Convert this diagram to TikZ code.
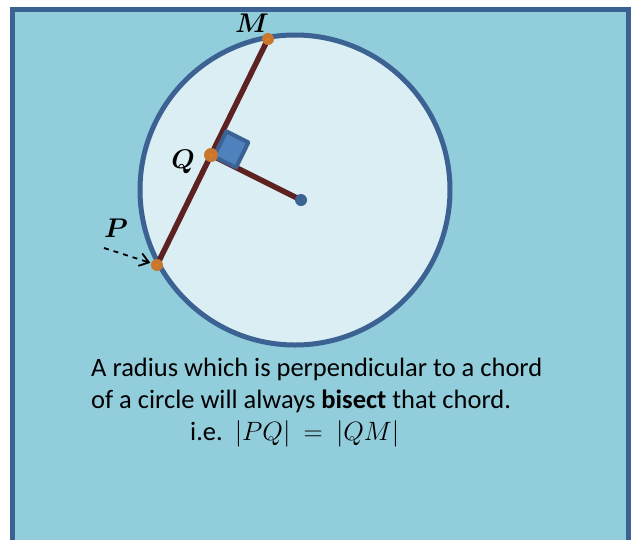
\RequirePackage{fix-cm}
\documentclass[tikz,border=0pt]{standalone}
\usepackage{amsmath, amssymb}
\usepackage{fontspec}
\setsansfont{Carlito}
\usepackage{tikz}
\usetikzlibrary{calc, positioning, arrows.meta}

\definecolor{boxblue}{HTML}{92CDDC}
\definecolor{discblue}{HTML}{DAEEF3}
\definecolor{rimblue}{HTML}{3B6292}
\definecolor{chordred}{HTML}{5E2121}
\definecolor{dotorange}{HTML}{C7772F}
\definecolor{markblue}{HTML}{4F81BD}

\begin{document}
\begin{tikzpicture}[x=1pt, y=-1pt, >={Straight Barb[length=9pt, width=13pt]},
    endpt/.style={circle, fill=dotorange, inner sep=0pt, minimum size=12pt},
    ptlabel/.style={font=\fontsize{27}{27}\selectfont, inner sep=0pt},
    seg/.style={chordred, line width=5.5pt},
    txtline/.style={font=\sffamily\fontsize{26.5}{32}\selectfont, anchor=base west, inner sep=0pt}]
    \useasboundingbox (0,0) rectangle (637,539);

    % Khung nen
    \draw[rimblue, line width=5pt, fill=boxblue] (12.5,9.5) rectangle (628.5,600);

    % Duong tron
    \draw[rimblue, line width=5pt, fill=discblue] (295,190) circle (155);

    % Cac diem
    \coordinate (M) at (268,39);
    \coordinate (P) at (157,265);
    \coordinate (Q) at (211,155);
    \coordinate (O) at (301,200);

    % Day cung va ban kinh
    \draw[seg] (P) -- (M);
    \draw[seg] (Q) -- (O);

    % Dau goc vuong
    \coordinate (qa) at ($(Q)!28pt!(M)$);
    \coordinate (qb) at ($(Q)!28pt!(O)$);
    \draw[rimblue, line width=4pt, fill=markblue, line join=round]
        ($(Q)!0.12!(qb)$) -- ($(qa)!0.12!($(qa)+(qb)-(Q)$)$)
        -- ($(qa)+(qb)-(Q)$) -- (qb) -- cycle;

    % Diem tren hinh
    \node[endpt] (nM) at (M) {};
    \node[endpt] (nP) at (P) {};
    \node[endpt, minimum size=14pt] (nQ) at (Q) {};
    \node[circle, fill=rimblue, inner sep=0pt, minimum size=12pt] (nO) at (O) {};
    \foreach \p in {M,P,Q} {
        \fill[orange!70!dotorange] (\p) circle (1.5);
    }

    % Nhan
    \node[ptlabel] (lM) at (252,23) {$\boldsymbol{M}$};
    \node[ptlabel] (lQ) at (183,162) {$\boldsymbol{Q}$};
    \node[ptlabel] (lP) at (116,228) {$\boldsymbol{P}$};

    % Mui ten chi P
    \coordinate (ptail) at (104,248);
    \draw[->, line width=1.8pt, dash pattern=on 5pt off 5pt, shorten >=7pt] (ptail) -- (nP.center);

    % Dinh ly
    \node[txtline] (t1) at (91,376) {A radius which is perpendicular to a chord};
    \node[txtline] (t2) at (91,408) {of a circle will always \textbf{bisect} that chord.};
    \node[txtline] (t3) at (190,440) {i.e.\ \ $|PQ| \:=\: |QM|$};
\end{tikzpicture}
\end{document}
